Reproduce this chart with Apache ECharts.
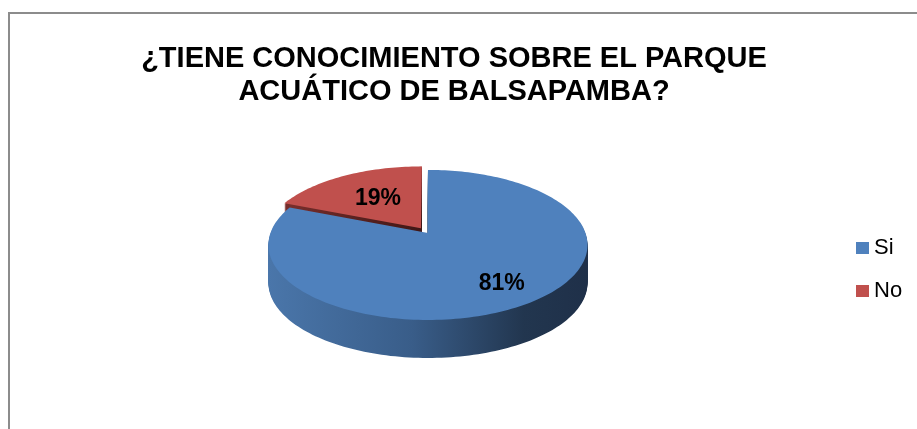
<!DOCTYPE html>
<html>
<head>
<meta charset="utf-8">
<script src="https://cdn.jsdelivr.net/npm/echarts@6/dist/echarts.min.js"></script>
<style>
  html, body { margin: 0; padding: 0; background: #fff; }
  #chart { width: 917px; height: 429px; }
</style>
</head>
<body>
<div id="chart"></div>
<script>
const categories = ['Si', 'No']
const values = [81, 19]
const colors = ['#4F81BD', '#C0504D']
const sideColors = [
  ['#4a76aa', '#395d89', '#22364f', '#1f3049'],
  ['#7a2e2c', '#5e2422', '#4a1b1a', '#3f1716'],
]
const exploded = [0, 0.08]
const labelDist = [0.75, 0.53]
const title = '¿TIENE CONOCIMIENTO SOBRE EL PARQUE\nACUÁTICO DE BALSAPAMBA?'

const total = values.reduce((a, b) => a + b, 0)

// tilted disc seen in perspective, side wall from stacked copies
function renderSlice(idx) {
  return function (params, api) {
    const w = api.getWidth()
    const h = api.getHeight()
    const cx = w * 0.4667
    const cy = h * 0.543
    const R = 157.5
    const Rs = 73.1
    const q = 0.16
    const depth = 38
    const project = (X, V) => [cx + (R * X) / (1 - q * V), cy + (Rs * V) / (1 - q * V)]

    const before = values.slice(0, idx).reduce((a, b) => a + b, 0)
    const start = -Math.PI / 2 + (2 * Math.PI * before) / total
    const end = start + (2 * Math.PI * values[idx]) / total
    const mid = (start + end) / 2
    const ex = exploded[idx] * Math.cos(mid)
    const ev = exploded[idx] * Math.sin(mid)

    const points = [project(ex, ev)]
    const steps = Math.max(8, Math.round((end - start) * 40))
    for (let s = 0; s <= steps; s++) {
      const a = start + ((end - start) * s) / steps
      points.push(project(ex + Math.cos(a), ev + Math.sin(a)))
    }

    const sideZ = idx === 0 ? 1 : 2
    const topZ = idx === 0 ? 4 : 3
    const sc = sideColors[idx]
    const children = []
    for (let k = depth; k >= 1; k--) {
      children.push({
        type: 'polygon',
        shape: { points: points },
        y: k,
        z2: sideZ,
        style: {
          fill: new echarts.graphic.LinearGradient(0, 0, 1, 0, [
            { offset: 0, color: sc[0] },
            { offset: 0.45, color: sc[1] },
            { offset: 0.8, color: sc[2] },
            { offset: 1, color: sc[3] },
          ]),
        },
      })
    }
    children.push({
      type: 'polygon',
      shape: { points: points },
      z2: topZ,
      style: { fill: colors[idx] },
    })
    const ld = labelDist[idx] + exploded[idx]
    const lp = project(ld * Math.cos(mid), ld * Math.sin(mid))
    children.push({
      type: 'text',
      z2: 10,
      x: lp[0],
      y: lp[1],
      style: {
        text: Math.round((values[idx] / total) * 100) + '%',
        fill: '#000',
        font: 'bold 23px "Liberation Sans", Arial, sans-serif',
        align: 'center',
        verticalAlign: 'middle',
      },
    })
    return { type: 'group', children: children }
  }
}

const chart = echarts.init(document.getElementById('chart'))
chart.setOption({
  animation: false,
  title: {
    text: title,
    left: 449,
    top: 37,
    textAlign: 'center',
    textStyle: {
      fontFamily: '"Liberation Sans", Arial, sans-serif',
      fontWeight: 'bold',
      fontSize: 29,
      lineHeight: 33,
      color: '#000',
    },
  },
  legend: {
    orient: 'vertical',
    left: 856,
    top: 237,
    padding: 0,
    itemWidth: 13,
    itemHeight: 12,
    itemGap: 21,
    icon: 'rect',
    data: categories,
    textStyle: {
      fontFamily: '"Liberation Sans", Arial, sans-serif',
      fontSize: 22,
      lineHeight: 22,
      color: '#000',
    },
  },
  graphic: [
    {
      type: 'rect',
      shape: { x: 9, y: 13, width: 1000, height: 1000 },
      style: { fill: 'none', stroke: '#8c8c8c', lineWidth: 2 },
      silent: true,
    },
  ],
  series: categories.map((name, i) => ({
    type: 'custom',
    name: name,
    coordinateSystem: 'none',
    color: colors[i],
    itemStyle: { color: colors[i] },
    renderItem: renderSlice(i),
    data: [values[i]],
  })),
})
</script>
</body>
</html>
